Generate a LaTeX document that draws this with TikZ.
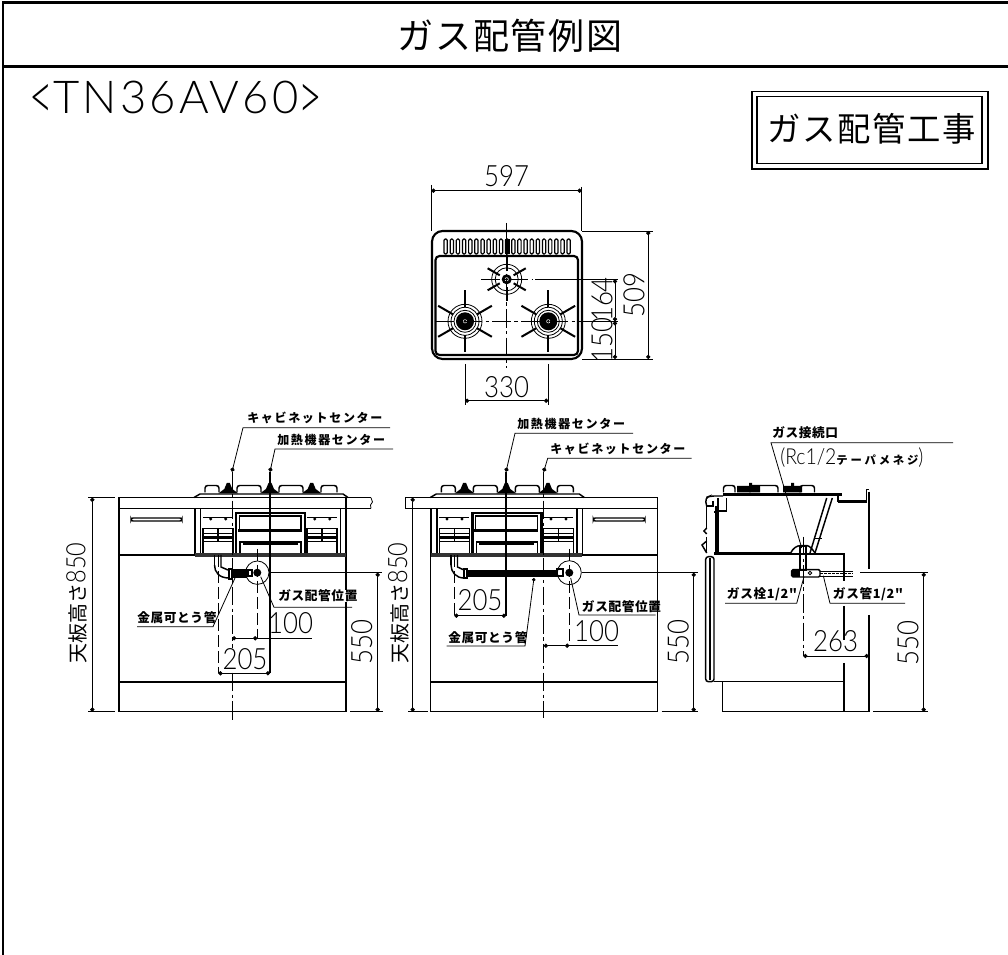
\documentclass[tikz,border=0pt]{standalone}
\usepackage{fontspec}
\usepackage{tikz}
\usetikzlibrary{arrows.meta}
\newfontfamily\jpf{Noto Sans CJK JP}
\newfontfamily\numf[FakeStretch=0.88]{Lato Light}
\newfontfamily\wordf{Lato Light}

\tikzset{
  outline/.style={line width=1.1pt},
  heavy/.style={line width=2pt},
  fine/.style={line width=0.6pt},
  center line/.style={line width=0.7pt,dash pattern=on 14pt off 2.5pt on 2.5pt off 2.5pt},
  hidden/.style={line width=0.7pt,dash pattern=on 9pt off 3pt},
  dim/.style={line width=0.55pt,{Circle[length=3.2pt]}-{Circle[length=3.2pt]}},
  ext/.style={line width=0.55pt},
  leader/.style={line width=0.6pt},
  numtext/.style={font=\numf\fontsize{22}{23}\selectfont,inner sep=0pt},
  jpbig/.style={font=\jpf\fontsize{27}{28}\selectfont\addfontfeature{LetterSpace=5},inner sep=0pt},
  jpsmall/.style={font=\jpf\bfseries\fontsize{9.5}{10}\selectfont\addfontfeature{LetterSpace=5},inner sep=0pt},
  jpwide/.style={font=\jpf\bfseries\fontsize{9}{10}\selectfont\addfontfeature{LetterSpace=14},inner sep=0pt},
  jptall/.style={font=\jpf\fontsize{15}{16}\selectfont,inner sep=0pt,rotate=90}
}

% burner of the top view: centre, spoke start, spoke length, ring radii, dark core radius
\newcommand{\topburner}[5]{
  \foreach \a in {30,90,150,210,270,330}
    \draw[line width=1.5pt] (#1) ++(\a:#2) -- ++(\a:#3);
  \foreach \r in {#4}
    \draw[fine] (#1) circle (\r);
  \fill (#1) circle (#5);
  \fill[white] (#1) circle (2);
  \draw[fine] (#1) circle (1);
}

% hob and cabinet front, drawn at the left view and shifted for the middle one
\newcommand{\hobfront}{
  \draw[outline] (194,497.5) -- (200,494) -- (343,494) -- (348,497.5);
  \foreach \x/\w in {205/219,237/261,279/303,321/337}
    \draw[outline,rounded corners=2pt] (\x,492.5) -- (\x,485.5) -- (\w,485.5) -- (\w,492.5);
  \foreach \x in {228.3,270,311.7} {
    \fill (\x-10,493.5) -- (\x-4,489) -- (\x-1.5,483) -- (\x+1.5,483) -- (\x+4,489) -- (\x+10,493.5) -- cycle;
  }
  \draw[outline] (195,508.3) -- (195,555) (200.7,508.3) -- (200.7,553);
  \draw[outline] (340.5,508.3) -- (340.5,553) (346,508.3) -- (346,555);
  \draw[line width=2.4pt,black!80] (195,555) -- (346,555);
  \draw[heavy] (236,553) -- (236,513) -- (305,513) -- (305,553);
  \draw[outline] (239.3,530) -- (239.3,516) -- (301,516) -- (301,530);
  \draw[heavy] (238,530.5) -- (302,530.5);
  \draw[outline] (240,553) -- (240,542) -- (301,542) -- (301,553);
  \draw[heavy] (243,544) -- (298,544);
  \foreach \sx in {203,307} {
    \draw[outline] (\sx,517.3) -- (\sx+30,517.3);
    \fill (\sx+7.7,519) circle (1.7) (\sx+22.7,519) circle (1.7);
    \draw[outline] (\sx,553) -- (\sx,528.7) -- (\sx+30,528.7) -- (\sx+30,553);
    \draw[outline] (\sx+15,528.7) -- (\sx+15,541.3);
    \draw[fine] (\sx,533) -- (\sx+30,533);
    \draw[heavy] (\sx,537.5) -- (\sx+30,537.5);
    \draw[outline] (\sx,541.3) -- (\sx+30,541.3);
  }
}

\begin{document}
\begin{tikzpicture}[x=0.75pt,y=-0.75pt]
\useasboundingbox (0,0) rectangle (1008,955);

% sheet frame
\draw[heavy] (1008,2.5) -- (3,2.5) -- (3,955);
\draw[heavy] (3,66.5) -- (1008,66.5);
\node[jpbig] (title) at (510,35.5) {ガス配管例図};
\node[font=\wordf\fontsize{34}{35}\selectfont\addfontfeature{LetterSpace=7},inner sep=0pt] (model) at (176,100.5) {\raisebox{-.14em}{\scalebox{.9}[1.44]{<}}TN36AV60\raisebox{-.14em}{\scalebox{.9}[1.44]{>}}};
\draw[outline] (752,91.7) rectangle (988,169);
\draw[outline] (757,96.7) rectangle (982,163.3);
\node[font=\jpf\fontsize{25}{26}\selectfont\addfontfeature{LetterSpace=5},inner sep=0pt] (worklabel) at (871.5,129) {ガス配管工事};

% top view
\draw[line width=1.6pt,rounded corners=8pt] (432,231) rectangle (582,359);
\draw[line width=1.6pt,rounded corners=3pt] (435.5,256) rectangle (578,355);
\foreach \i in {0,...,20}
  \draw[line width=0.9pt,rounded corners=1pt] (444+6.15*\i,239) rectangle ++(3.3,15);
\fill (504.5,239) rectangle ++(5,15);
\coordinate (bt) at (506.7,279.3);
\coordinate (bl) at (465,321.3);
\coordinate (br) at (548.3,321.3);
\topburner{bt}{8}{14}{15,11.5}{5}
\topburner{bl}{14}{17}{17,14,11}{9}
\topburner{br}{14}{17}{17,14,11}{9}
\draw[center line] (506.7,223) -- (506.7,368);
\draw[center line] (435,321.3) -- (578,321.3);
\draw[center line] (481,279.3) -- (532,279.3);

% top view dimensions
\draw[ext] (431.3,185) -- (431.3,231) (581.7,187) -- (581.7,231);
\draw[ext] (582,231) -- (653,231) (582,359) -- (653,359);
\draw[ext] (535,279.3) -- (618,279.3) (578,321.3) -- (618,321.3);
\draw[ext] (465,364) -- (465,405) (548.3,364) -- (548.3,405);
\coordinate (w1) at (431.3,190.7);
\coordinate (w2) at (581.7,190.7);
\coordinate (h1) at (648.3,231);
\coordinate (h2) at (648.3,359);
\coordinate (r1) at (615,279.3);
\coordinate (r2) at (615,321.3);
\coordinate (r3) at (615,359);
\coordinate (p1) at (465,400.7);
\coordinate (p2) at (548.3,400.7);
\draw[dim] (w1) -- (w2);
\draw[dim] (h1) -- (h2);
\draw[dim] (r1) -- (r2);
\draw[dim] (r2) -- (r3);
\draw[dim] (p1) -- (p2);
\node[numtext] (n597) at (506.7,176) {597};
\node[numtext,rotate=90] (n509) at (634,295) {509};
\node[numtext,rotate=90] (n164) at (602,299.5) {164};
\node[numtext,rotate=90] (n150) at (602,340) {150};
\node[numtext] (n330) at (506.7,387) {330};

% left front view
\draw[outline] (119,497.7) rectangle (346,711.7);
\draw[outline] (119,682) -- (346,682);
\draw[outline] (119,555) -- (195,555);
\draw[outline] (119,508.3) -- (371,508.3) (346,497.7) -- (371,497.7);
\draw[fine] (371,497.7) -- (372.5,502) -- (370.5,505) -- (371,508.3);
\draw[outline,rounded corners=1.5pt] (131,518) rectangle (182,521);
\hobfront
\draw[outline] (214.5,555) -- (214.5,565);
\draw[outline] (221,555) -- (221,567) -- (228,570);
\draw[outline] (214.5,565) .. controls (214.5,572) and (219,578) .. (229,578);
\draw[outline] (229,569) rectangle (232,579);
\fill (233,569.5) rectangle (247,578.5);
\draw[outline] (248,570) rectangle (252,576);
\draw[fine] (257.3,572.7) circle (11.7);
\fill (257.3,572.7) circle (4);
\draw[center line] (232,472) -- (232,723);
\draw[line width=0.8pt] (270,472) -- (270,673);
\draw[hidden] (218.3,555) -- (218.3,673);
\draw[hidden] (257.3,549) -- (257.3,638);

% left front dimensions
\draw[ext] (88,497.7) -- (115,497.7) (88,711.7) -- (115,711.7);
\draw[ext] (270,572.7) -- (382,572.7) (350,711.7) -- (383,711.7);
\coordinate (la1) at (92.3,497.7);
\coordinate (la2) at (92.3,711.7);
\coordinate (lb1) at (377.7,572.7);
\coordinate (lb2) at (377.7,711.7);
\coordinate (lc1) at (232,638.3);
\coordinate (lc2) at (257.3,638.3);
\coordinate (lc3) at (311.7,638.3);
\coordinate (ld1) at (218.3,673.3);
\coordinate (ld2) at (270,673.3);
\draw[dim] (la1) -- (la2);
\draw[dim] (lb1) -- (lb2);
\draw[dim] (lc1) -- (lc2);
\draw[ext] (lc2) -- (lc3);
\draw[dim] (ld1) -- (ld2);
\node[jptall] (lh850) at (76.7,603) {天板高さ\numf\fontsize{20}{21}\selectfont 850};
\node[numtext,rotate=90,fill=white] (l550) at (361.7,641.7) {550};
\node[numtext] (l100) at (290.7,623) {100};
\node[numtext,fill=white] (l205) at (245,659) {205};

% left front labels
\node[jpwide,anchor=west] (lcab) at (247,418) {キャビネットセンター};
\node[jpwide,anchor=west] (lhob) at (277,440) {加熱機器センター};
\node[jpsmall,anchor=west,fill=white] (lpos) at (278,596) {ガス配管位置};
\node[jpsmall,anchor=west] (lflex) at (137,618) {金属可とう管};
\coordinate (lcabu) at (243,427.7);
\coordinate (lcabe) at (390,427.7);
\coordinate (lhobu) at (275,449);
\coordinate (lhobe) at (393,449);
\coordinate (lposu) at (274,607.3);
\coordinate (lpose) at (352,607.3);
\coordinate (lflexu) at (213,626.7);
\coordinate (lflexe) at (137,626.7);
\draw[leader,{Circle[length=3.2pt]}-] (232,471.7) -- (lcabu) -- (lcabe);
\draw[leader,{Circle[length=3.2pt]}-] (270,471.7) -- (lhobu) -- (lhobe);
\draw[leader] (260.7,576.7) -- (lposu) -- (lpose);
\draw[leader] (235,578) -- (lflexu) -- (lflexe);

% middle front view
\draw[outline] (405.7,497.3) rectangle (657.3,508.3);
\draw[outline] (430.7,508.3) -- (430.7,711.7) -- (657.3,711.7) -- (657.3,508.3);
\draw[outline] (430.7,682) -- (657.3,682);
\draw[outline] (581.7,555) -- (657.3,555);
\draw[outline,rounded corners=1.5pt] (593.3,518) rectangle (645,521);
\begin{scope}[shift={(236.3,0)}]
\hobfront
\end{scope}
\draw[outline] (451,555) -- (451,565);
\draw[outline] (457.5,555) -- (457.5,567) -- (464,570);
\draw[outline] (451,565) .. controls (451,572) and (456,578) .. (464,578);
\draw[outline] (464,569) rectangle (467,578);
\fill (467,570) rectangle (556.7,577);
\draw[outline] (557,569) rectangle (563,576);
\draw[fine] (569.3,572.7) circle (12);
\fill (569.3,572.7) circle (4);
\draw[center line] (543.7,472) -- (543.7,718);
\draw[line width=0.8pt] (506,472) -- (506,615.7);
\draw[hidden] (454.3,555) -- (454.3,615.7);
\draw[hidden] (569.3,549) -- (569.3,645.7);

% middle front dimensions
\draw[ext] (408,497.7) -- (430,497.7) (408,711.7) -- (428,711.7);
\draw[ext] (581.7,572.7) -- (698,572.7) (661.7,711.7) -- (698,711.7);
\coordinate (ma1) at (412.7,497.7);
\coordinate (ma2) at (412.7,711.7);
\coordinate (mb1) at (693.7,572.7);
\coordinate (mb2) at (693.7,711.7);
\coordinate (mc1) at (543.7,645.7);
\coordinate (mc2) at (569.3,645.7);
\coordinate (mc3) at (618.3,645.7);
\coordinate (md1) at (454.3,615.7);
\coordinate (md2) at (506,615.7);
\draw[dim] (ma1) -- (ma2);
\draw[dim] (mb1) -- (mb2);
\draw[dim] (mc1) -- (mc2);
\draw[ext] (mc2) -- (mc3);
\draw[dim] (md1) -- (md2);
\node[jptall] (mh850) at (398.3,603) {天板高さ\numf\fontsize{20}{21}\selectfont 850};
\node[numtext,rotate=90] (m550) at (678.3,641.7) {550};
\node[numtext] (m100) at (596.7,630.7) {100};
\node[numtext] (m205) at (480,600) {205};

% middle front labels
\node[jpwide,anchor=west] (mhob) at (517,424) {加熱機器センター};
\node[jpwide,anchor=west] (mcab) at (550,449.3) {キャビネットセンター};
\node[jpsmall,anchor=west] (mpos) at (581.7,606.7) {ガス配管位置};
\node[jpsmall,anchor=west,fill=white] (mflex) at (448,637.7) {金属可とう管};
\coordinate (mhobu) at (515,433.3);
\coordinate (mhobe) at (633,433.3);
\coordinate (mcabu) at (547.7,458.3);
\coordinate (mcabe) at (691.7,458.3);
\coordinate (mposu) at (579,615);
\coordinate (mpose) at (655.7,615);
\coordinate (mflexu) at (525,646);
\coordinate (mflexe) at (446.7,646);
\draw[leader,{Circle[length=3.2pt]}-] (506,471.7) -- (mhobu) -- (mhobe);
\draw[leader,{Circle[length=3.2pt]}-] (543.7,471.7) -- (mcabu) -- (mcabe);
\draw[leader] (570.7,578) -- (mposu) -- (mpose);
\draw[leader,{Circle[length=2.6pt]}-] (534,578) -- (mflexu) -- (mflexe);

% side view
\draw[outline] (714,554) -- (844,554) -- (844,581);
\draw[outline] (844,606) -- (844,640) (844,663) -- (844,711.7);
\draw[outline] (714,681.7) -- (844,681.7);
\draw[outline,rounded corners=2pt] (705.7,556.7) rectangle (714,681.7);
\draw[line width=1.8pt] (710,558) -- (710,680);
\draw[heavy] (714,553.5) -- (790.7,553.5);
\draw[outline] (722.7,681.7) -- (722.7,711.7) -- (869.3,711.7);
\draw[outline] (868.8,491.7) -- (868.8,569) (868.8,615) -- (868.8,711.7);
\draw[heavy] (723,494.7) -- (841.7,494.7);
\draw[outline] (838,496) -- (838,501.3) -- (866.7,501.3) -- (866.7,489.7) -- (869.3,489.7);
\draw[heavy] (838,501.3) -- (866.7,501.3);
\draw[outline,rounded corners=2pt] (723.5,492.5) -- (723.5,485.5) -- (735,485.5) -- (735,492.5);
\draw[outline,rounded corners=2pt] (750,492.5) -- (750,485.5) -- (778,485.5) -- (778,492.5);
\draw[outline,rounded corners=2pt] (800,492.5) -- (800,485.5) -- (814.5,485.5) -- (814.5,492.5);
\fill (737,486) rectangle (760,492.5) (783,486) rectangle (802,492.5);
\fill (749,483) rectangle (752,486) (791,483) rectangle (794,486);
\draw[outline,rounded corners=3pt] (706.7,506) -- (705,498) -- (710,496) -- (723,496);
\draw[outline] (706.7,506) -- (706.7,528) (706.7,537) -- (706.7,553);
\draw[outline] (713,501) -- (713,506.7) (706.7,506) -- (712,506);
\draw[outline] (706.7,528) -- (704,531) -- (706.7,534) (706.7,541) -- (702,545) -- (706.7,553);
\draw[outline] (716,512) -- (716,553) (716,506) -- (716,512) -- (714,512);
\draw[outline] (718,498) -- (718,553.3) (718,511) -- (726.7,511) -- (726.7,498);
\draw[outline] (826.7,498) -- (810,553) (832.3,498) -- (815,553);
\draw[outline] (790.7,553) .. controls (793,548) and (797,545.7) .. (800,545.7) -- (807.3,545.7) .. controls (810,546) and (813,550) .. (815,553);
\draw[outline] (800,546) rectangle (806,570);
\draw[outline,rounded corners=1pt] (791.7,569.7) rectangle (820,577);
\fill (791.7,569.7) rectangle (800,577);
\draw[outline] (820,571.3) -- (853,571.3) (820,576.3) -- (853,576.3);
\draw[fine,dash pattern=on 2pt off 1pt] (820,573.8) -- (853,573.8);
\draw[fine] (810,573) circle (1.8);
\draw[center line] (803.3,536.7) -- (803.3,656);
\draw[ext] (815,538.7) -- (822,538.7);

% side dimensions
\draw[ext] (860,572.7) -- (928,572.7) (873,711.7) -- (928,711.7);
\coordinate (sa1) at (923.7,572.7);
\coordinate (sa2) at (923.7,711.7);
\coordinate (sb1) at (803.3,656);
\coordinate (sb2) at (868.8,656);
\draw[dim] (sa1) -- (sa2);
\draw[dim] (sb1) -- (sb2);
\node[numtext] (s263) at (835.7,640.7) {263};
\node[numtext,rotate=90] (s550) at (908,643) {550};

% side labels
\node[jpsmall,anchor=west] (sport) at (772,432.7) {ガス接続口};
\node[anchor=west,inner sep=0pt] (sthread) at (780,458) {\numf\fontsize{16.5}{17}\selectfont (Rc1/2\jpf\bfseries\fontsize{8.5}{9}\selectfont\addfontfeature{LetterSpace=25}テーパメネジ\numf\mdseries\fontsize{16.5}{17}\selectfont )};
\node[jpsmall,anchor=west] (scock) at (726.7,594) {ガス栓1/2"};
\node[jpsmall,anchor=west] (spipe) at (832.7,594) {ガス管1/2"};
\coordinate (sportu) at (771,442.7);
\coordinate (sporte) at (953,442.7);
\coordinate (scocku) at (796.7,603.3);
\coordinate (scocke) at (725,603.3);
\coordinate (spipeu) at (830,603.3);
\coordinate (spipee) at (905,603.3);
\draw[leader] (801.7,548) -- (sportu) -- (sporte);
\draw[leader] (804,576.7) -- (scocku) -- (scocke);
\draw[leader] (823.3,575.7) -- (spipeu) -- (spipee);

\end{tikzpicture}
\end{document}
